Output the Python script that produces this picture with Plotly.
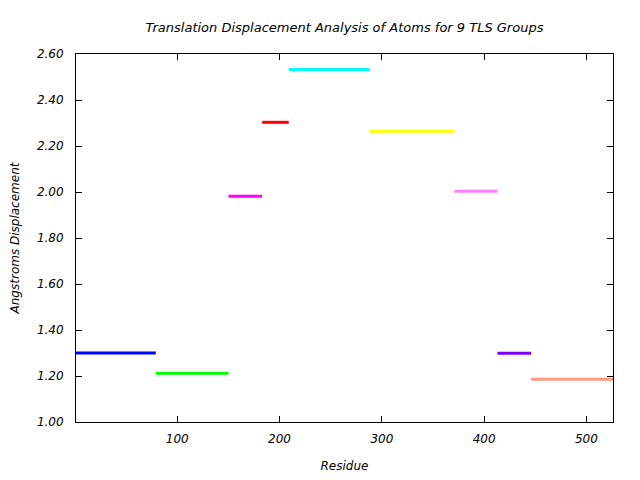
import plotly.graph_objects as go

starts = [1, 79, 150, 183, 209, 288, 371, 413, 446]
ends = [79, 150, 183, 209, 288, 371, 413, 446, 526]
values = [1.30, 1.212, 1.981, 2.303, 2.533, 2.264, 2.003, 1.299, 1.186]
colors = ["#0000ff", "#00ff00", "#ff00ff", "#ff0000", "#00ffff",
          "#ffff00", "#ff80ff", "#8000ff", "#ff9980"]
y_ticks = [1.0, 1.2, 1.4, 1.6, 1.8, 2.0, 2.2, 2.4, 2.6]
x_ticks = [100, 200, 300, 400, 500]

fig = go.Figure()
for s, e, v, c in zip(starts, ends, values, colors):
    fig.add_trace(go.Scatter(x=[s, e], y=[v, v], mode="lines",
                             line=dict(color=c, width=3), showlegend=False,
                             hoverinfo="skip"))

font = dict(family="DejaVu Sans", size=12, color="black", style="italic")
tfont = dict(family="DejaVu Sans", size=13, color="black", style="italic")

fig.update_layout(
    width=640, height=480,
    margin=dict(l=68, r=35, t=46, b=66, autoexpand=False),
    paper_bgcolor="white", plot_bgcolor="white",
    font=font,
    title=dict(text="Translation Displacement Analysis of Atoms for 9 TLS Groups",
               x=336.5 / 640, xanchor="center", y=1 - 19 / 480, yanchor="middle",
               font=tfont),
    xaxis=dict(range=[starts[0], ends[-1]], tickvals=x_ticks, ticks="inside",
               ticklen=6, tickcolor="black", showline=True, linecolor="black",
               linewidth=1, mirror="ticks", showgrid=False, zeroline=False,
               ticklabelstandoff=6, automargin=False,
               title=dict(text="Residue", font=font, standoff=16),
               tickfont=font),
    yaxis=dict(range=[1.0, 2.6], tickvals=y_ticks, tickformat=".2f",
               ticks="inside", ticklen=6, tickcolor="black", showline=True,
               linecolor="black", linewidth=1, mirror="ticks", showgrid=False,
               zeroline=False, ticklabelstandoff=9, automargin=False,
               title=dict(text="Angstroms Displacement", font=font, standoff=16),
               tickfont=font),
)

fig.write_html("out.html")
